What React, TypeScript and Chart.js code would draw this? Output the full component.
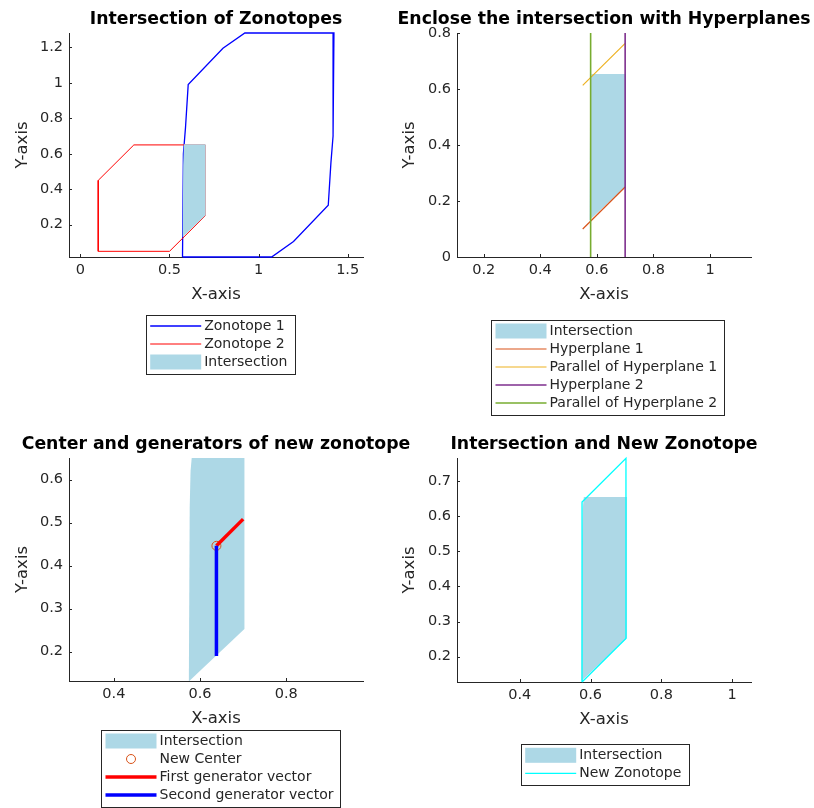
import React, { useEffect, useRef } from 'react';
import { Chart, registerables } from 'chart.js';

Chart.register(...registerables);

const FONT = '"DejaVu Sans", sans-serif';
const AXIS_COLOR = '#262626';

// ---------- data ----------
// Subplot 1
const zono1X = [0.573, 0.578, 0.590, 0.605, 0.800, 0.923, 1.423, 1.418, 1.406, 1.391, 1.196, 1.073, 0.573];
const zono1Y = [0.018, 0.600, 0.750, 0.990, 1.195, 1.281, 1.281, 0.700, 0.550, 0.310, 0.105, 0.018, 0.018];
const zono2X = [0.1, 0.5, 0.7, 0.7, 0.3, 0.1, 0.1];
const zono2Y = [0.05, 0.05, 0.25, 0.65, 0.65, 0.45, 0.05];
// Intersection (same patch in every subplot)
const interX = [0.574, 0.703, 0.703, 0.581, 0.578, 0.576, 0.574];
const interY = [0.131, 0.253, 0.654, 0.654, 0.620, 0.536, 0.131];
// Subplot 2: hyperplanes
const hyp1X = [0.55, 0.70];
const hyp1Y = [0.10, 0.25];
const parHyp1X = [0.55, 0.70];
const parHyp1Y = [0.613, 0.763];
const hyp2X = [0.70, 0.70];
const hyp2Y = [0.0, 0.8];
const parHyp2X = [0.578, 0.578];
const parHyp2Y = [0.0, 0.8];
// Subplot 3: center & generators
const centerX = [0.638];
const centerY = [0.446];
const gen1X = [0.638, 0.700];
const gen1Y = [0.446, 0.508];
const gen2X = [0.638, 0.638];
const gen2Y = [0.446, 0.190];
// Subplot 4: new zonotope
const newZonoX = [0.576, 0.700, 0.700, 0.576, 0.576];
const newZonoY = [0.128, 0.252, 0.764, 0.640, 0.128];

// ticks
const xTicks1 = [0, 0.5, 1, 1.5];
const xTickLabels1 = ['0', '0.5', '1', '1.5'];
const yTicks1 = [0.2, 0.4, 0.6, 0.8, 1, 1.2];
const yTickLabels1 = ['0.2', '0.4', '0.6', '0.8', '1', '1.2'];
const xTicks2 = [0.2, 0.4, 0.6, 0.8, 1];
const xTickLabels2 = ['0.2', '0.4', '0.6', '0.8', '1'];
const yTicks2 = [0, 0.2, 0.4, 0.6, 0.8];
const yTickLabels2 = ['0', '0.2', '0.4', '0.6', '0.8'];
const xTicks3 = [0.4, 0.6, 0.8];
const xTickLabels3 = ['0.4', '0.6', '0.8'];
const yTicks3 = [0.2, 0.3, 0.4, 0.5, 0.6];
const yTickLabels3 = ['0.2', '0.3', '0.4', '0.5', '0.6'];
const xTicks4 = [0.4, 0.6, 0.8, 1];
const xTickLabels4 = ['0.4', '0.6', '0.8', '1'];
const yTicks4 = [0.2, 0.3, 0.4, 0.5, 0.6, 0.7];
const yTickLabels4 = ['0.2', '0.3', '0.4', '0.5', '0.6', '0.7'];

// ---------- helpers ----------
const pts = (xs: number[], ys: number[]) => xs.map((x, i) => ({ x, y: ys[i] }));

const lineDs = (label: string, xs: number[], ys: number[], color: string, width: number) => ({
  label,
  data: pts(xs, ys),
  showLine: true,
  borderColor: color,
  backgroundColor: color,
  borderWidth: width,
  pointRadius: 0,
  pointHoverRadius: 0,
  fill: false,
  tension: 0,
  clip: false,
  legendKind: 'line',
});

const fillDs = (label: string, xs: number[], ys: number[], color: string) => ({
  label,
  data: pts(xs, ys),
  showLine: true,
  borderColor: 'rgba(0,0,0,0)',
  backgroundColor: color,
  borderWidth: 0,
  pointRadius: 0,
  pointHoverRadius: 0,
  fill: 'shape',
  tension: 0,
  legendKind: 'patch',
});

const markerDs = (label: string, xs: number[], ys: number[], color: string) => ({
  label,
  data: pts(xs, ys),
  showLine: false,
  pointRadius: 4.5,
  pointHoverRadius: 4.5,
  pointStyle: 'circle',
  pointBorderColor: color,
  pointBackgroundColor: 'rgba(0,0,0,0)',
  pointBorderWidth: 1,
  borderColor: color,
  backgroundColor: 'rgba(0,0,0,0)',
  clip: false,
  legendKind: 'marker',
});

const LIGHTBLUE = '#ADD8E6';

// ---------- plugins ----------
const inwardTicks = {
  id: 'inwardTicks',
  afterDatasetsDraw(chart: any) {
    const { ctx, chartArea } = chart;
    const xs = chart.scales.x;
    const ys = chart.scales.y;
    ctx.save();
    ctx.strokeStyle = AXIS_COLOR;
    ctx.lineWidth = 1;
    ctx.beginPath();
    xs.ticks.forEach((t: any) => {
      const px = Math.round(xs.getPixelForValue(t.value)) + 0.5;
      ctx.moveTo(px, chartArea.bottom);
      ctx.lineTo(px, chartArea.bottom - 3);
    });
    ys.ticks.forEach((t: any) => {
      const py = Math.round(ys.getPixelForValue(t.value)) + 0.5;
      ctx.moveTo(chartArea.left, py);
      ctx.lineTo(chartArea.left + 3, py);
    });
    ctx.stroke();
    ctx.restore();
  },
};

const matLegend = {
  id: 'matLegend',
  afterDraw(chart: any, _args: any, opts: any) {
    if (!opts || !opts.display) return;
    const ctx = chart.ctx;
    const items = chart.data.datasets.filter((d: any) => d.label);
    const rowH = 18;
    ctx.save();
    ctx.font = `14px ${FONT}`;
    const textW = Math.max(...items.map((d: any) => ctx.measureText(d.label).width));
    const x0 = opts.left;
    const y0 = opts.top;
    const w = 58.5 + textW + 7;
    const h = 11 + rowH * (items.length - 1) + 12;
    ctx.fillStyle = '#ffffff';
    ctx.fillRect(x0, y0, w, h);
    ctx.strokeStyle = AXIS_COLOR;
    ctx.lineWidth = 1;
    ctx.strokeRect(Math.round(x0) + 0.5, Math.round(y0) + 0.5, Math.round(w), Math.round(h));
    items.forEach((d: any, i: number) => {
      const cy = y0 + 11 + i * rowH;
      const sx = x0 + 4.5;
      const ex = x0 + 55.5;
      if (d.legendKind === 'patch') {
        ctx.fillStyle = d.backgroundColor;
        ctx.fillRect(sx, cy - 7.5, ex - sx, 15);
      } else if (d.legendKind === 'marker') {
        ctx.beginPath();
        ctx.strokeStyle = d.pointBorderColor;
        ctx.lineWidth = 1;
        ctx.arc((sx + ex) / 2, cy, 4.5, 0, Math.PI * 2);
        ctx.stroke();
      } else {
        ctx.beginPath();
        ctx.strokeStyle = d.borderColor;
        ctx.lineWidth = d.borderWidth;
        ctx.moveTo(sx, cy);
        ctx.lineTo(ex, cy);
        ctx.stroke();
      }
      ctx.fillStyle = AXIS_COLOR;
      ctx.textAlign = 'left';
      ctx.textBaseline = 'middle';
      ctx.fillText(d.label, x0 + 58.5, cy);
    });
    ctx.restore();
  },
};

// ---------- subplot specs (layout only) ----------
type Spec = {
  key: string; left: number; top: number; w: number; h: number;
  yW: number; yTitlePad: number; padBottom: number; title: string;
  xMin: number; xMax: number; yMin: number; yMax: number;
  xTicks: number[]; xLabels: string[]; yTicks: number[]; yLabels: string[];
  datasets: any[]; legend: { left: number; top: number };
};

const specs: Spec[] = [
  {
    key: 'a', left: 0, top: 0, w: 432, h: 425, yW: 69, yTitlePad: 13, padBottom: 120,
    title: 'Intersection of Zonotopes',
    xMin: -0.064, xMax: 1.586, yMin: 0.018, yMax: 1.281,
    xTicks: xTicks1, xLabels: xTickLabels1, yTicks: yTicks1, yLabels: yTickLabels1,
    datasets: [
      lineDs('Zonotope 1', zono1X, zono1Y, '#0000FF', 1.3),
      lineDs('Zonotope 2', zono2X, zono2Y, '#FF0000', 1.0),
      fillDs('Intersection', interX, interY, LIGHTBLUE),
    ],
    legend: { left: 145.7, top: 315 },
  },
  {
    key: 'b', left: 395, top: 0, w: 418, h: 425, yW: 62, yTitlePad: 5, padBottom: 120,
    title: 'Enclose the intersection with Hyperplanes',
    xMin: 0.1055, xMax: 1.145, yMin: 0, yMax: 0.8,
    xTicks: xTicks2, xLabels: xTickLabels2, yTicks: yTicks2, yLabels: yTickLabels2,
    datasets: [
      fillDs('Intersection', interX, interY, LIGHTBLUE),
      lineDs('Hyperplane 1', hyp1X, hyp1Y, '#D95319', 1.2),
      lineDs('Parallel of Hyperplane 1', parHyp1X, parHyp1Y, '#EDB120', 1.2),
      lineDs('Hyperplane 2', hyp2X, hyp2Y, '#7E2F8E', 1.6),
      lineDs('Parallel of Hyperplane 2', parHyp2X, parHyp2Y, '#77AC30', 1.6),
    ],
    legend: { left: 96, top: 320 },
  },
  {
    key: 'c', left: 0, top: 425, w: 432, h: 383, yW: 69, yTitlePad: 13, padBottom: 79,
    title: 'Center and generators of new zonotope',
    xMin: 0.296, xMax: 0.978, yMin: 0.132, yMax: 0.65,
    xTicks: xTicks3, xLabels: xTickLabels3, yTicks: yTicks3, yLabels: yTickLabels3,
    datasets: [
      fillDs('Intersection', interX, interY, LIGHTBLUE),
      markerDs('New Center', centerX, centerY, '#D95319'),
      lineDs('First generator vector', gen1X, gen1Y, '#FF0000', 3.5),
      lineDs('Second generator vector', gen2X, gen2Y, '#0000FF', 3.5),
    ],
    legend: { left: 101, top: 305 },
  },
  {
    key: 'd', left: 395, top: 425, w: 418, h: 383, yW: 62, yTitlePad: 5, padBottom: 78,
    title: 'Intersection and New Zonotope',
    xMin: 0.223, xMax: 1.053, yMin: 0.128, yMax: 0.765,
    xTicks: xTicks4, xLabels: xTickLabels4, yTicks: yTicks4, yLabels: yTickLabels4,
    datasets: [
      fillDs('Intersection', interX, interY, LIGHTBLUE),
      lineDs('New Zonotope', newZonoX, newZonoY, '#00FFFF', 1.3),
    ],
    legend: { left: 125.7, top: 319.3 },
  },
];

function buildConfig(s: Spec): any {
  const datasets = s.datasets.map((d, i) => ({ ...d, order: -i, xAxisID: 'x', yAxisID: 'y' }));
  const tickFont = { family: FONT, size: 14.5 };
  const labelFont = { family: FONT, size: 16.5 };
  return {
    type: 'scatter',
    data: { datasets },
    options: {
      responsive: false,
      maintainAspectRatio: false,
      animation: false,
      events: [],
      layout: { padding: { left: 0, right: 0, top: 0, bottom: s.padBottom } },
      plugins: {
        legend: { display: false },
        tooltip: { enabled: false },
        title: {
          display: true,
          text: s.title,
          color: '#000000',
          font: { family: FONT, size: 17.3, weight: 'bold' },
          padding: { top: 9, bottom: 3.24 },
        },
        matLegend: { display: true, left: s.legend.left, top: s.legend.top },
      },
      scales: {
        x: {
          type: 'linear',
          position: 'bottom',
          min: s.xMin,
          max: s.xMax,
          afterBuildTicks: (axis: any) => { axis.ticks = s.xTicks.map((v) => ({ value: v })); },
          afterFit: (axis: any) => { axis.height = 48; },
          ticks: {
            autoSkip: false, maxRotation: 0, minRotation: 0, padding: 5,
            color: AXIS_COLOR, font: tickFont,
            callback: (_v: any, i: number) => s.xLabels[i],
          },
          grid: { display: true, drawOnChartArea: false, drawTicks: false },
          border: { display: true, color: AXIS_COLOR, width: 1 },
          title: { display: true, text: 'X-axis', color: AXIS_COLOR, font: labelFont, padding: { top: 0, bottom: 0 } },
        },
        y: {
          type: 'linear',
          position: 'left',
          min: s.yMin,
          max: s.yMax,
          afterBuildTicks: (axis: any) => { axis.ticks = s.yTicks.map((v) => ({ value: v })); },
          afterFit: (axis: any) => { axis.width = s.yW; },
          ticks: {
            autoSkip: false, padding: 6,
            color: AXIS_COLOR, font: tickFont,
            callback: (_v: any, i: number) => s.yLabels[i],
          },
          grid: { display: true, drawOnChartArea: false, drawTicks: false },
          border: { display: true, color: AXIS_COLOR, width: 1 },
          title: { display: true, text: 'Y-axis', color: AXIS_COLOR, font: labelFont, padding: { top: s.yTitlePad, bottom: 0 } },
        },
        yR: {
          type: 'linear',
          position: 'right',
          display: true,
          ticks: { display: false },
          grid: { display: false, drawTicks: false },
          border: { display: false },
          afterFit: (axis: any) => { axis.width = s.yW; },
        },
      },
    },
    plugins: [inwardTicks, matLegend],
  };
}

function Plot({ spec }: { spec: Spec }) {
  const ref = useRef<HTMLCanvasElement | null>(null);
  useEffect(() => {
    if (!ref.current) return;
    const chart = new Chart(ref.current, buildConfig(spec));
    return () => chart.destroy();
  }, [spec]);
  return (
    <canvas
      ref={ref}
      width={spec.w}
      height={spec.h}
      style={{ position: 'absolute', left: spec.left, top: spec.top, width: spec.w, height: spec.h }}
    />
  );
}

export default function App() {
  return (
    <div style={{ position: 'absolute', left: 0, top: 0, width: 814, height: 808, overflow: 'hidden', background: '#ffffff' }}>
      {specs.map((s) => (
        <Plot key={s.key} spec={s} />
      ))}
    </div>
  );
}
